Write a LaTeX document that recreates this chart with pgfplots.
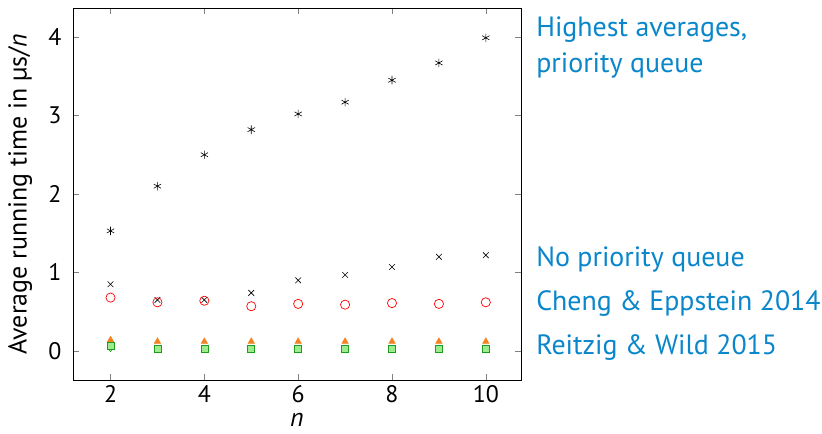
\documentclass[border=0pt]{standalone}
\usepackage{fontspec}
\setmainfont{PT Sans}
\usepackage{pgfplots}
\pgfplotsset{compat=1.18}
\definecolor{lblue}{HTML}{0A86CB}
\definecolor{morange}{HTML}{F58220}
\definecolor{mgreen}{HTML}{1E9A1E}
\definecolor{lgreen}{HTML}{9DEB8F}
\begin{document}
\begin{tikzpicture}[font=\fontsize{23}{27}\selectfont]
\useasboundingbox (0,0) rectangle (822bp,434bp);
\begin{axis}[
  at={(73bp,54bp)}, anchor=south west,
  scale only axis, width=448bp, height=372bp,
  xmin=1.2, xmax=10.75, ymin=-0.37, ymax=4.37,
  xtick={2,4,6,8,10}, ytick={0,1,2,3,4},
  /pgf/number format/assume math mode=true,
  tick label style={font=\fontsize{24}{28}\selectfont},
  yticklabel style={xshift=-8bp},
  xticklabel style={yshift=-2bp},
  tick align=inside, major tick length=6bp,
  tick style={gray, line width=0.6pt},
  axis line style={line width=0.8pt},
  xlabel={\textit{n}}, ylabel={Average running time in µs/\textit{n}},
  label style={font=\fontsize{26}{30}\selectfont},
  xlabel style={at={(axis description cs:0.5,-0.108)}, anchor=center},
  ylabel style={at={(axis description cs:-0.118,0.5)}, anchor=center, rotate=0},
  clip=false,
]
\addplot[only marks, mark=asterisk, mark size=4.2bp, black, line width=0.6pt] coordinates {
(2,1.53)(3,2.10)(4,2.50)(5,2.82)(6,3.02)(7,3.17)(8,3.45)(9,3.67)(10,3.99)};
\addplot[only marks, mark=x, mark size=4bp, black, line width=0.6pt] coordinates {
(2,0.85)(3,0.65)(4,0.65)(5,0.74)(6,0.90)(7,0.97)(8,1.07)(9,1.20)(10,1.22)};
\addplot[only marks, mark=o, mark size=4.6bp, red, line width=0.7pt] coordinates {
(2,0.68)(3,0.62)(4,0.64)(5,0.57)(6,0.60)(7,0.59)(8,0.61)(9,0.60)(10,0.62)};
\addplot[only marks, mark=diamond*, mark size=4bp, mgreen, mark options={fill=lgreen}] coordinates {
(2,0.04)};
\addplot[only marks, mark=triangle*, mark size=3.8bp, morange] coordinates {
(2,0.14)(3,0.12)(4,0.12)(5,0.12)(6,0.12)(7,0.12)(8,0.12)(9,0.12)(10,0.12)};
\addplot[only marks, mark=square*, mark size=3.5bp, mgreen, mark options={fill=lgreen}, line width=0.6pt] coordinates {
(2,0.06)(3,0.03)(4,0.03)(5,0.03)(6,0.03)(7,0.03)(8,0.03)(9,0.03)(10,0.03)};
\node[anchor=west, lblue, align=left, font=\fontsize{28}{36}\selectfont] at (axis cs:11.0,3.87) {Highest averages,\\priority queue};
\node[anchor=west, lblue, font=\fontsize{28}{32}\selectfont] at (axis cs:11.0,1.17) {No priority queue};
\node[anchor=west, lblue, font=\fontsize{28}{32}\selectfont] at (axis cs:11.0,0.60) {Cheng \& Eppstein 2014};
\node[anchor=west, lblue, font=\fontsize{28}{32}\selectfont] at (axis cs:11.0,0.05) {Reitzig \& Wild 2015};
\end{axis}
\end{tikzpicture}
\end{document}
